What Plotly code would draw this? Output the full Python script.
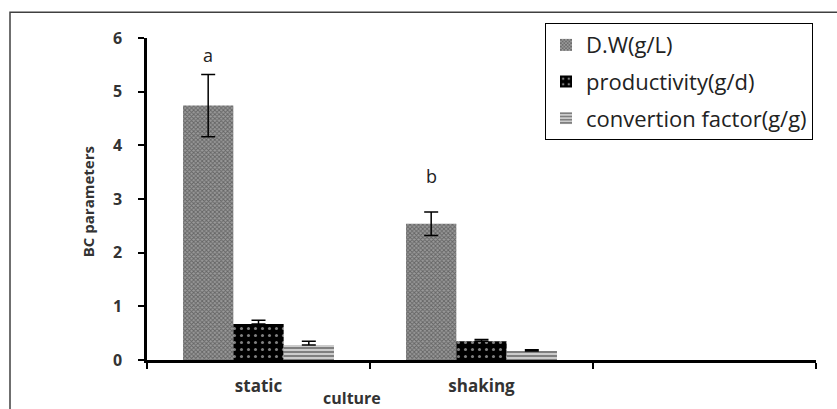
import plotly.graph_objects as go

# ---- data ----
categories = ["static", "shaking", " "]
dw = [4.74, 2.54, None]
dw_err = [0.58, 0.22, 0]
productivity = [0.67, 0.35, None]
productivity_err = [0.07, 0.03, 0]
conversion = [0.28, 0.17, None]
conversion_err = [0.07, 0.02, 0]
letters = ["a", "b"]
letter_y = [5.69, 3.43]
yticks = [0, 1, 2, 3, 4, 5, 6]

W, H = 837, 409
L, R, T, B = 147, 21, 38, 47
BARGAP = 0.323
FONT = "Open Sans"
TXT = "#333333"

fig = go.Figure()

def err(arr, minus=None):
    d = dict(type="data", array=arr, color="black", thickness=1.5, width=7)
    if minus is not None:
        d.update(symmetric=False, arrayminus=minus)
    return d

fig.add_trace(go.Bar(
    name="D.W(g/L)", x=categories, y=dw, error_y=err(dw_err),
    legendgroup="g1",
    marker=dict(color="#2e2e2e", line=dict(width=0),
                pattern=dict(shape="x", bgcolor="#9a9a9a", fgcolor="#2e2e2e",
                             size=3, solidity=0.5)),
))
fig.add_trace(go.Bar(
    name="productivity(g/d)", x=categories, y=productivity,
    error_y=err(productivity_err, [0] * len(productivity_err)),
    legendgroup="g2",
    marker=dict(color="black", line=dict(width=0),
                pattern=dict(shape=".", bgcolor="black", fgcolor="white",
                             size=7, solidity=0.15)),
))
fig.add_trace(go.Bar(
    name="convertion factor(g/g)", x=categories, y=conversion,
    error_y=err(conversion_err, [0] * len(conversion_err)),
    legendgroup="g3",
    marker=dict(color="black", line=dict(width=0),
                pattern=dict(shape="-", bgcolor="white", fgcolor="black",
                             size=4, solidity=0.7)),
))

plot_w = W - L - R
plot_h = H - T - B
cat_px = plot_w / len(categories)
bar_px = (1 - BARGAP) * cat_px / 3
for i, (t, yv) in enumerate(zip(letters, letter_y)):
    fig.add_annotation(x=categories[i], y=yv, text=t, showarrow=False,
                       xshift=-bar_px, font=dict(family=FONT, size=18, color="#222222"))

fig.add_annotation(xref="paper", yref="paper", x=(352 - L) / plot_w,
                   y=-(400 - (H - B)) / plot_h,
                   text="<b>culture</b>", showarrow=False,
                   xanchor="center", yanchor="middle",
                   font=dict(family=FONT, size=16, color=TXT))
fig.add_annotation(xref="paper", yref="paper", x=(88 - L) / plot_w, y=0.49,
                   text="<b>BC parameters</b>", showarrow=False, textangle=-90,
                   xanchor="center", yanchor="middle",
                   font=dict(family=FONT, size=15, color=TXT))

fig.add_shape(type="rect", xref="paper", yref="paper",
              x0=(10 - L) / plot_w, x1=(845 - L) / plot_w,
              y0=-(420 - (H - B)) / plot_h, y1=((H - B) - 12) / plot_h,
              line=dict(color="#404040", width=1.5), fillcolor="rgba(0,0,0,0)",
              layer="below")

fig.update_layout(
    width=W, height=H,
    margin=dict(l=L, r=R, t=T, b=B),
    paper_bgcolor="white", plot_bgcolor="white",
    barmode="group", bargap=BARGAP, bargroupgap=0,
    font=dict(family=FONT, color=TXT),
    legend=dict(x=(545 - L) / plot_w, y=((H - B) - 23) / plot_h,
                xanchor="left", yanchor="top",
                bordercolor="black", borderwidth=1, bgcolor="white",
                font=dict(family=FONT, size=22, color="#222222"),
                traceorder="grouped", tracegroupgap=5),
    showlegend=True,
)
fig.update_xaxes(
    type="category", categoryorder="array", categoryarray=categories,
    range=[-0.5, 2.5], tickson="boundaries",
    showline=True, linecolor="black", linewidth=2.5,
    ticks="outside", ticklen=6, tickwidth=2, tickcolor="black",
    tickfont=dict(family=FONT, size=17, color=TXT, weight="bold"),
    ticklabelstandoff=9,
    showgrid=False, zeroline=False,
)
fig.update_yaxes(
    range=[0, 6], tickvals=yticks,
    showline=True, linecolor="black", linewidth=2.5,
    ticks="outside", ticklen=6, tickwidth=2, tickcolor="black",
    tickfont=dict(family=FONT, size=16, color=TXT, weight="bold"),
    ticklabelstandoff=13,
    showgrid=False, zeroline=False,
)

fig.write_html("out.html")
